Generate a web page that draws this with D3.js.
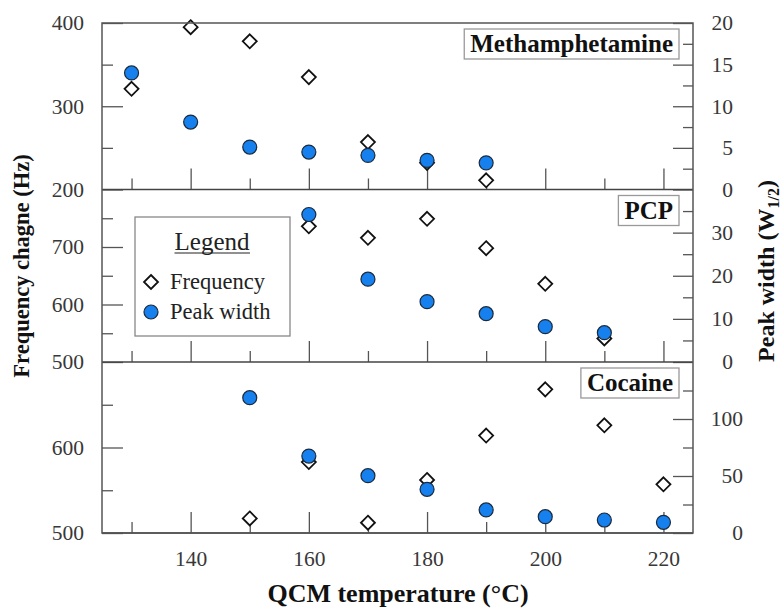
<!DOCTYPE html>
<html>
<head>
<meta charset="utf-8">
<script src="https://cdn.jsdelivr.net/npm/d3@7"></script>
<style>
body{margin:0;background:#fff}
text{font-family:"Liberation Serif","Times New Roman",serif}
</style>
</head>
<body>
<script>
// values
const methTemps = [130,140,150,160,170,180,190]
const methFreq = [321,395,378,335,257,232,211]
const methWidth = [14.0,8.1,5.1,4.5,4.1,3.5,3.2]

const pcpTemps = [160,170,180,190,200,210]
const pcpFreq = [736,716,749,698,636,541]
const pcpWidth = [34.2,19.2,14.0,11.2,8.2,6.8]

const cocTemps = [150,160,170,180,190,200,210,220]
const cocFreq = [517,583,512,562,614,668,626,557]
const cocWidth = [118.7,67.5,50.3,38.3,20.2,14.3,11.4,9.4]

const panelNames = ["Methamphetamine","PCP","Cocaine"]
const freqDomains = [[200,400],[500,800],[500,700]]
const widthDomains = [[0,20],[0,40],[0,150]]
const freqMajor = [[200,300,400],[500,600,700],[500,600]]
const freqMinor = [[250,350],[550,650,750],[550,650]]
const widthMajor = [[0,5,10,15,20],[0,10,20,30],[0,50,100]]
const widthMinor = [[2.5,7.5,12.5,17.5],[5,15,25,35],[25,75,125]]
const xMajor = [140,160,180,200,220]
const xMinor = [130,150,170,190,210]

const panelTemps = [methTemps,pcpTemps,cocTemps]
const panelFreq = [methFreq,pcpFreq,cocFreq]
const panelWidth = [methWidth,pcpWidth,cocWidth]

const W = 783, H = 614
const left = 102, right = 693
const panelY = [[23,189.5],[189.5,362],[362,533]]
const blue = "#1580ee"
const axisCol = "#555"
const tickTxt = "#383838"

const svg = d3.select("body").append("svg")
    .attr("width", W).attr("height", H)

const x = d3.scaleLinear().domain([125,225]).range([left,right])

const diamond = d3.symbol().type(d3.symbolDiamond2).size(125)

function styleAxis(g){
    g.select(".domain").remove()
    g.selectAll("line").attr("stroke", axisCol).attr("stroke-width", 1.3)
    g.selectAll("text").attr("fill", tickTxt).style("font-size","21.5px")
        .style("font-family",'"Liberation Serif","Times New Roman",serif')
}

panelNames.forEach((name,i)=>{
    const [top,bottom] = panelY[i]
    const y = d3.scaleLinear().domain(freqDomains[i]).range([bottom,top])
    const y2 = d3.scaleLinear().domain(widthDomains[i]).range([bottom,top])
    const g = svg.append("g")

    // left axis
    g.append("g").attr("transform",`translate(${left},0)`)
        .call(d3.axisLeft(y).tickValues(freqMajor[i]).tickSize(-21).tickSizeOuter(0).tickPadding(18))
        .call(styleAxis)
    g.append("g").attr("transform",`translate(${left},0)`)
        .call(d3.axisLeft(y).tickValues(freqMinor[i]).tickSize(-11).tickSizeOuter(0).tickFormat(""))
        .call(styleAxis)

    // right axis
    g.append("g").attr("transform",`translate(${right},0)`)
        .call(d3.axisRight(y2).tickValues(widthMajor[i]).tickSize(-20).tickSizeOuter(0))
        .call(styleAxis)
        .call(a=>a.selectAll("text").attr("text-anchor","end").attr("x", i==2 ? 50 : 40))
    g.append("g").attr("transform",`translate(${right},0)`)
        .call(d3.axisRight(y2).tickValues(widthMinor[i]).tickSize(-10).tickSizeOuter(0).tickFormat(""))
        .call(styleAxis)

    // bottom ticks
    g.append("g").attr("transform",`translate(0,${bottom})`)
        .call(d3.axisBottom(x).tickValues(xMajor).tickSize(-21).tickSizeOuter(0).tickPadding(18)
            .tickFormat(i==2 ? d3.format("d") : ""))
        .call(styleAxis)
    g.append("g").attr("transform",`translate(0,${bottom})`)
        .call(d3.axisBottom(x).tickValues(xMinor).tickSize(-11).tickSizeOuter(0).tickFormat(""))
        .call(styleAxis)

    // separator / frame bottom
    g.append("line").attr("x1",left).attr("x2",right).attr("y1",bottom).attr("y2",bottom)
        .attr("stroke","#444").attr("stroke-width",1.6)

    // markers
    g.selectAll(".freq").data(panelTemps[i]).enter()
        .append("path").attr("class","freq")
        .attr("d", diamond)
        .attr("transform",(d,j)=>`translate(${x(d)},${y(panelFreq[i][j])})`)
        .attr("fill","#fff").attr("stroke","#111").attr("stroke-width",1.8)
    g.selectAll(".width").data(panelTemps[i]).enter()
        .append("circle").attr("class","width")
        .attr("cx", d=>x(d))
        .attr("cy", (d,j)=>y2(panelWidth[i][j]))
        .attr("r", 7)
        .attr("fill", blue).attr("stroke","#1b2a3c").attr("stroke-width",1.2)

    // panel label
    const box = g.append("rect")
    const lab = g.append("text").text(name)
        .attr("x", 673).attr("y", top+29)
        .attr("text-anchor","end")
        .style("font-size","25px").style("font-weight","bold").attr("fill","#111")
    const bb = lab.node().getBBox()
    box.attr("x", bb.x-6).attr("y", top+6)
        .attr("width", bb.width+12).attr("height", 30)
        .attr("fill","#fff").attr("stroke","#999").attr("stroke-width",1.3)
})

// frame
svg.append("rect").attr("x",left).attr("y",panelY[0][0])
    .attr("width",right-left).attr("height",panelY[2][1]-panelY[0][0])
    .attr("fill","none").attr("stroke",axisCol).attr("stroke-width",1.5)

// legend
const lg = svg.append("g")
lg.append("rect").attr("x",135).attr("y",217).attr("width",155).attr("height",119)
    .attr("fill","#fff").attr("stroke","#888").attr("stroke-width",1.3)
const lt = lg.append("text").text("Legend").attr("x",212).attr("y",250)
    .attr("text-anchor","middle").style("font-size","25px").attr("fill","#222")
const lb = lt.node().getBBox()
lg.append("line").attr("x1",lb.x).attr("x2",lb.x+lb.width).attr("y1",253).attr("y2",253)
    .attr("stroke","#222").attr("stroke-width",1.2)
lg.append("path").attr("d",diamond).attr("transform","translate(151,282)")
    .attr("fill","#fff").attr("stroke","#111").attr("stroke-width",1.8)
lg.append("text").text("Frequency").attr("x",170).attr("y",289)
    .style("font-size","22.5px").attr("fill","#222")
lg.append("circle").attr("cx",151).attr("cy",312).attr("r",7)
    .attr("fill",blue).attr("stroke","#1b2a3c").attr("stroke-width",1.2)
lg.append("text").text("Peak width").attr("x",170).attr("y",319)
    .style("font-size","22.5px").attr("fill","#222")

// axis titles
svg.append("text").text("QCM temperature (°C)")
    .attr("x",398).attr("y",602).attr("text-anchor","middle")
    .style("font-size","26px").style("font-weight","bold").attr("fill","#111")

svg.append("text").text("Frequency chagne (Hz)")
    .attr("transform","translate(29,266) rotate(-90)")
    .attr("text-anchor","middle")
    .style("font-size","22.5px").style("font-weight","bold").attr("fill","#111")

const rt = svg.append("text")
    .attr("transform","translate(774,271) rotate(-90)")
    .attr("text-anchor","middle")
    .style("font-size","24px").style("font-weight","bold").attr("fill","#111")
rt.append("tspan").text("Peak width (W")
rt.append("tspan").text("1/2").attr("dy",5).style("font-size","16px")
rt.append("tspan").text(")").attr("dy",-5)
</script>
</body>
</html>
